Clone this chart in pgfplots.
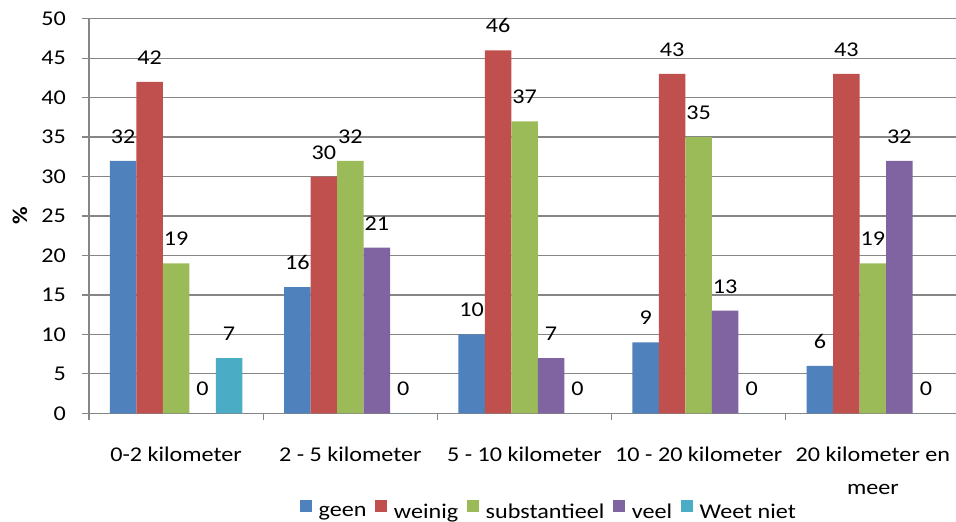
\documentclass[border=0pt]{standalone}
\usepackage{fontspec}
\setmainfont{Carlito}[FakeStretch=1.15]
\usepackage{pgfplots}
\usepackage{pgfplotstable}
\pgfplotsset{compat=1.18}
\definecolor{cgeen}{HTML}{4F81BD}
\definecolor{cweinig}{HTML}{C0504D}
\definecolor{csubst}{HTML}{9BBB59}
\definecolor{cveel}{HTML}{8064A2}
\definecolor{cweet}{HTML}{4BACC6}
\definecolor{cgrid}{RGB}{134,134,134}
\pgfplotstableread{
x geen weinig subst veel weet
0 32 42 19 0 7
1 16 30 32 21 0
2 10 46 37 7 0
3 9 43 35 13 0
4 6 43 19 32 0
}\data
\begin{document}
\begin{tikzpicture}[font=\fontsize{21bp}{25bp}\selectfont]
\useasboundingbox (0,0) rectangle (956bp,522bp);
\clip (0,0) rectangle (956bp,522bp);
\begin{axis}[
  at={(89bp,108.7bp)}, anchor=south west,
  width=871bp, height=394.6bp, scale only axis,
  xmin=-0.5, xmax=4.5, ymin=0, ymax=50,
  ybar=0pt, bar width=26.5bp,
  /pgf/number format/assume math mode=true,
  axis x line*=bottom, axis y line*=left,
  axis line style={cgrid, line width=1.2bp, -},
  ymajorgrids, grid style={cgrid, line width=1.2bp},
  ytick={0,5,...,50},
  xtick={0,1,2,3,4},
  xticklabels={0-2 kilometer, 2 - 5 kilometer, 5 - 10 kilometer, 10 - 20 kilometer, {20 kilometer en\\[8bp]meer}},
  minor xtick={-0.5,0.5,1.5,2.5,3.5,4.5},
  major x tick style={draw=none},
  tick align=outside, major tick length=7bp, minor tick length=7bp,
  tick style={cgrid, line width=1.2bp},
  xticklabel style={anchor=north, align=center, inner sep=0pt, yshift=-26bp},
  yticklabel style={anchor=east, inner sep=0pt, xshift=-16bp},
  ylabel={\textbf{\%}},
  ylabel style={at={(axis description cs:0,0.5)}, anchor=center, xshift=0bp, yshift=69bp},
  nodes near coords,
  nodes near coords style={anchor=base, yshift=17.5bp, inner sep=0pt, black},
  legend columns=5,
  legend style={at={(0.527,-0.245)}, anchor=center, draw=none, fill=none,
    /tikz/every odd column/.append style={column sep=7bp},
    /tikz/every even column/.append style={column sep=9bp},
    nodes={inner sep=0pt}},
  legend image code/.code={\fill[#1] (0bp,0bp) rectangle (11.5bp,11.5bp);},
]
\addplot[fill=cgeen, draw=none] table[x=x,y=geen]{\data};
\addlegendentry{geen}
\addplot[fill=cweinig, draw=none] table[x=x,y=weinig]{\data};
\addlegendentry{weinig}
\addplot[fill=csubst, draw=none] table[x=x,y=subst]{\data};
\addlegendentry{substantieel}
\addplot[fill=cveel, draw=none] table[x=x,y=veel]{\data};
\addlegendentry{veel}
\addplot[fill=cweet, draw=none] table[x=x,y=weet]{\data};
\addlegendentry{Weet niet}
\end{axis}
\end{tikzpicture}
\end{document}
